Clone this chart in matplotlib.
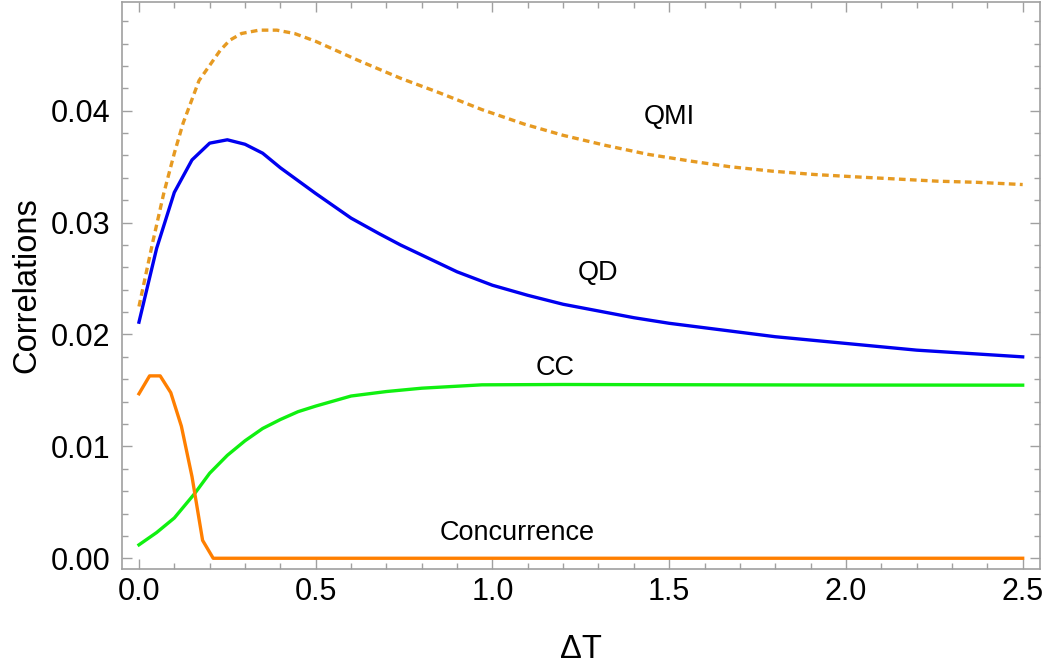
import matplotlib
matplotlib.use("Agg")
import matplotlib.pyplot as plt
from matplotlib.ticker import MultipleLocator, FormatStrFormatter

plt.rcParams['font.family'] = ['Liberation Sans', 'DejaVu Sans']

# ---- data ----
qmi_x = [0, 0.04, 0.07, 0.1, 0.125, 0.17, 0.23, 0.257, 0.29, 0.34, 0.39, 0.44, 0.5,
         0.62, 0.74, 0.85, 0.97, 1.09, 1.2, 1.32, 1.44, 1.56, 1.67, 1.79, 1.91,
         2.02, 2.14, 2.26, 2.37, 2.5]
qmi_y = [0.0225, 0.0284, 0.0326, 0.0362, 0.0389, 0.0427, 0.0454, 0.0463, 0.0469,
         0.0472, 0.0472, 0.0469, 0.0462, 0.0445, 0.0429, 0.0416, 0.0401, 0.0388,
         0.0378, 0.0369, 0.0361, 0.0355, 0.0350, 0.0346, 0.0343, 0.0341, 0.0339,
         0.0337, 0.0336, 0.0334]

qd_x = [0, 0.05, 0.1, 0.15, 0.2, 0.25, 0.3, 0.35, 0.4, 0.5, 0.6, 0.68, 0.74, 0.8,
        0.9, 1.0, 1.1, 1.2, 1.3, 1.4, 1.5, 1.6, 1.7, 1.8, 1.9, 2.0, 2.1, 2.2, 2.3,
        2.4, 2.5]
qd_y = [0.0211, 0.0277, 0.0327, 0.0356, 0.0371, 0.0374, 0.0370, 0.0362, 0.0349,
        0.0326, 0.0304, 0.0290, 0.0280, 0.0271, 0.0256, 0.0244, 0.0235, 0.0227,
        0.0221, 0.0215, 0.0210, 0.0206, 0.0202, 0.0198, 0.0195, 0.0192, 0.0189,
        0.0186, 0.0184, 0.0182, 0.0180]

cc_x = [0, 0.05, 0.1, 0.158, 0.2, 0.25, 0.3, 0.35, 0.4, 0.45, 0.5, 0.6, 0.7, 0.8,
        0.97, 1.2, 1.5, 2.0, 2.5]
cc_y = [0.0012, 0.0023, 0.0036, 0.0058, 0.0076, 0.0092, 0.0105, 0.0116, 0.0124,
        0.0131, 0.0136, 0.0145, 0.0149, 0.0152, 0.0155, 0.01553, 0.01551, 0.01548,
        0.01547]

conc_x = [0, 0.03, 0.06, 0.09, 0.12, 0.15, 0.18, 0.21, 2.5]
conc_y = [0.0147, 0.0163, 0.0163, 0.0148, 0.0118, 0.0073, 0.0016, 0.0, 0.0]

labels = ["QMI", "QD", "CC", "Concurrence"]
label_x = [1.50, 1.30, 1.177, 1.07]
label_y = [0.0394, 0.0255, 0.0170, 0.0023]

xticks = [0.0, 0.5, 1.0, 1.5, 2.0, 2.5]
yticks = [0.00, 0.01, 0.02, 0.03, 0.04]

# ---- figure ----
fig = plt.figure(figsize=(10.48, 6.67), dpi=100)
ax = fig.add_axes([122 / 1048, 1 - 569 / 667, (1040 - 122) / 1048, (569 - 1.5) / 667])

lw = 2.4
ax.plot(qmi_x, qmi_y, color='#E69A22', lw=lw, linestyle=(0, (2.0, 1.3)),
        dash_capstyle='butt')
ax.plot(qd_x, qd_y, color='#0000F0', lw=lw)
ax.plot(cc_x, cc_y, color='#10F010', lw=lw)
ax.plot(conc_x, conc_y, color='#FF7F00', lw=lw)

for t, x, y in zip(labels, label_x, label_y):
    ax.text(x, y, t, fontsize=19.5, ha='center', va='center', color='black')

ax.set_xlim(-0.048, 2.549)
ax.set_ylim(-0.00096, 0.04976)

ax.set_xticks(xticks)
ax.set_yticks(yticks)
ax.xaxis.set_major_formatter(FormatStrFormatter('%.1f'))
ax.yaxis.set_major_formatter(FormatStrFormatter('%.2f'))
ax.xaxis.set_minor_locator(MultipleLocator(0.1))
ax.yaxis.set_minor_locator(MultipleLocator(0.002))

frame_col = '#A0A0A0'
for s in ax.spines.values():
    s.set_color(frame_col)
    s.set_linewidth(1.2)

ax.tick_params(which='both', direction='in', top=True, right=True, color=frame_col,
               width=1.0, labelsize=22, labelcolor='black')
ax.tick_params(which='major', length=7)
ax.tick_params(which='minor', length=4)
ax.tick_params(axis='y', which='major', pad=8.5)
ax.tick_params(axis='x', which='major', pad=6)

ax.set_xlabel('ΔT', fontsize=23.5, labelpad=19)
ax.set_ylabel('Correlations', fontsize=23.5, labelpad=6)

fig.savefig('out.png', dpi=100)
